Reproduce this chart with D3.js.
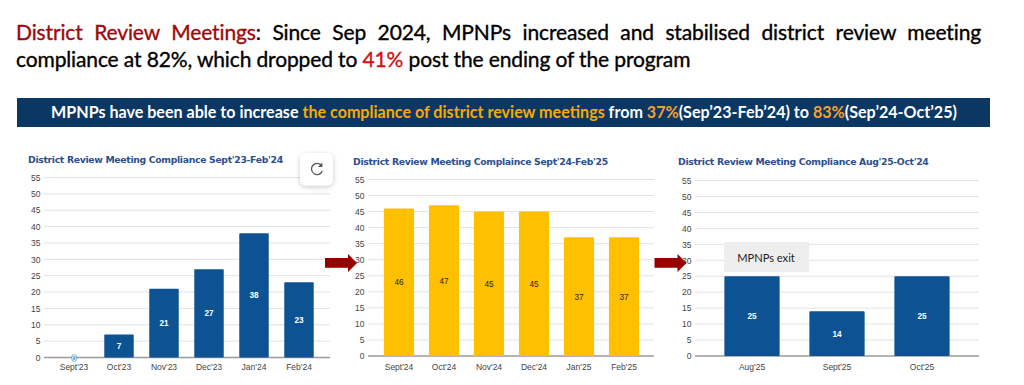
<!DOCTYPE html>
<html><head><meta charset="utf-8">
<script src="https://cdnjs.cloudflare.com/ajax/libs/d3/7.8.5/d3.min.js"></script>
<style>
html,body{margin:0;padding:0;background:#fff;overflow:hidden}
svg{display:block}
text{font-family:"Liberation Sans",Arial,sans-serif}
.head{font-family:Lato,sans-serif;font-size:21px;letter-spacing:-.13px;stroke:currentColor;stroke-width:.35px}
.banner{font-family:Lato,sans-serif;font-size:16.1px;font-weight:700}
.ctitle{font-family:"DejaVu Sans",sans-serif;font-size:9.3px;font-weight:700;fill:#2b4f90;letter-spacing:-.33px}
.axis text{font-size:8.5px;fill:#444}
.axis .domain{display:none}
.axis .tick line{display:none}
</style></head><body>
<svg id="c" width="1024" height="385"></svg>
<script>
const yTicks = [0,5,10,15,20,25,30,35,40,45,50,55];
const cats1 = ["Sept'23","Oct'23","Nov'23","Dec'23","Jan'24","Feb'24"];
const vals1 = [0,7,21,27,38,23];
const cats2 = ["Sept'24","Oct'24","Nov'24","Dec'24","Jan'25","Feb'25"];
const vals2 = [46,47,45,45,37,37];
const cats3 = ["Aug'25","Sept'25","Oct'25"];
const vals3 = [25,14,25];
const blue = "#0d5394", gold = "#ffc000";

const svg = d3.select("#c");

// headline
const h1 = svg.append("text").attr("class","head").attr("x",16).attr("y",39.5).style("word-spacing","6.3px").attr("fill","#000").style("color","#000");
h1.append("tspan").attr("fill","#9b0a0a").style("color","#9b0a0a").text("District Review Meetings");
h1.append("tspan").text(": Since Sep 2024, MPNPs increased and stabilised district review meeting");
const h2 = svg.append("text").attr("class","head").attr("x",16).attr("y",66.5).attr("fill","#000").style("color","#000");
h2.append("tspan").text("compliance at 82%, which dropped to ");
h2.append("tspan").attr("fill","#d01010").style("color","#d01010").text("41%");
h2.append("tspan").text(" post the ending of the program");

// banner
svg.append("rect").attr("x",17).attr("y",98).attr("width",973).attr("height",29).attr("fill","#0a3763");
const b = svg.append("text").attr("class","banner").attr("x",504).attr("y",118).attr("text-anchor","middle").attr("fill","#fff");
b.append("tspan").text("MPNPs have been able to increase ");
b.append("tspan").attr("fill","#f5a90a").text("the compliance of district review meetings");
b.append("tspan").text(" from ");
b.append("tspan").attr("fill","#f5a030").text("37%");
b.append("tspan").text("(Sep\u201923-Feb\u201924) to ");
b.append("tspan").attr("fill","#f5a030").text("83%");
b.append("tspan").text("(Sep\u201924-Oct\u201925)");

function chart(o){
  const y = d3.scaleLinear().domain([0,55]).range([o.y0,o.y1]);
  const x = d3.scaleBand().domain(o.cats).range(o.xr).paddingInner(o.pad).paddingOuter(o.pad/2);
  const g = svg.append("g");
  g.append("text").attr("class","ctitle").attr("x",o.tx).attr("y",o.ty).text(o.title);
  g.selectAll("line.grid").data(yTicks).join("line").attr("class","grid")
    .attr("x1",o.gl).attr("x2",o.gr).attr("y1",d=>y(d)).attr("y2",d=>y(d))
    .attr("stroke",d=>d===0?"#9a9a9a":"#e2e2e2").attr("stroke-width",d=>d===0?1.3:1);
  g.append("g").attr("class","axis").attr("transform",`translate(${o.gl-1.5},0)`)
    .call(d3.axisLeft(y).tickValues(yTicks).tickSize(0).tickPadding(2));
  g.append("g").attr("class","axis").attr("transform",`translate(0,${o.y0})`)
    .call(d3.axisBottom(x).tickSize(0).tickPadding(o.xpad));
  g.selectAll("rect.bar").data(o.vals).join("rect").attr("class","bar")
    .attr("x",(d,i)=>x(o.cats[i])).attr("width",x.bandwidth())
    .attr("y",d=>y(d)).attr("height",d=>y(0)-y(d)).attr("fill",o.color).attr("rx",.8);
  g.selectAll("text.lab").data(o.vals).join("text").attr("class","lab")
    .attr("x",(d,i)=>x(o.cats[i])+x.bandwidth()/2).attr("y",d=>(y(d)+y(0))/2+3)
    .attr("text-anchor","middle").attr("font-size",8.2)
    .attr("font-weight",o.color===blue?700:400)
    .attr("fill",o.labelColor)
    .attr("stroke",d=>d===0?"#2f74b8":null).attr("stroke-width",d=>d===0?1.2:null)
    .style("paint-order","stroke")
    .text(d=>d);
}
chart({title:"District Review Meeting Compliance Sept'23-Feb'24",tx:28,ty:163,cats:cats1,vals:vals1,color:blue,labelColor:"#fff",
  y0:357.5,y1:177.5,gl:44,gr:330,xr:[51.5,321.5],pad:.345,xpad:6});
chart({title:"District Review Meeting Complaince Sept'24-Feb'25",tx:353,ty:165,cats:cats2,vals:vals2,color:gold,labelColor:"#2a2300",
  y0:356,y1:179.5,gl:368,gr:654,xr:[376.5,646.5],pad:.33,xpad:8});
chart({title:"District Review Meeting Compliance Aug'25-Oct'24",tx:678,ty:165,cats:cats3,vals:vals3,color:blue,labelColor:"#fff",
  y0:356,y1:180.5,gl:695,gr:979,xr:[709.5,964.5],pad:.35,xpad:8});

// reload button
const defs = svg.append("defs");
const f = defs.append("filter").attr("id","sh").attr("x","-30%").attr("y","-30%").attr("width","160%").attr("height","160%");
f.append("feDropShadow").attr("dx",0).attr("dy",1.5).attr("stdDeviation",2.5).attr("flood-color","#000").attr("flood-opacity",.22);
svg.append("rect").attr("x",300).attr("y",153).attr("width",33).attr("height",32.5).attr("rx",6).attr("fill","#fff").attr("filter","url(#sh)");
svg.append("path").attr("d","M321.5 165.5 A5.6 5.6 0 1 0 322.3 171").attr("fill","none").attr("stroke","#555").attr("stroke-width",1.3);
svg.append("path").attr("d","M322.4 162.5 V167 H318 Z").attr("fill","#555");

// arrows
function arrow(x0){
  svg.append("path").attr("fill","#980000")
    .attr("d",`M${x0} 258 H${x0+23} V254 L${x0+32} 263 L${x0+23} 272 V267.7 H${x0} Z`);
}
arrow(325); arrow(654.5);

// exit box
svg.append("rect").attr("x",724).attr("y",242).attr("width",85).attr("height",30).attr("fill","#eeeeee");
svg.append("text").attr("x",766).attr("y",261.5).attr("text-anchor","middle")
  .style("font-family","Lato,sans-serif").attr("font-size",11.1).attr("fill","#222").text("MPNPs exit");
</script>
</body></html>
